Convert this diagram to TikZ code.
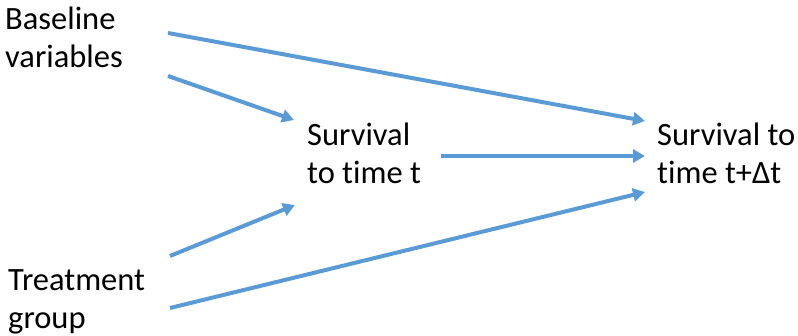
\documentclass[tikz,border=0pt]{standalone}
\usepackage{fontspec}
\setmainfont{Carlito}[Ligatures={NoCommon,NoRequired,NoContextual}]
\usetikzlibrary{arrows.meta}
\definecolor{linkblue}{RGB}{91,155,213}
\tikzset{
  label/.style={anchor=base west, inner sep=0pt, align=left,
    font=\fontsize{32.5}{38}\selectfont, text=black},
  link/.style={draw=linkblue, line width=4pt,
    -{Triangle[length=12pt,width=13pt]}}
}
\begin{document}
\begin{tikzpicture}[x=1pt,y=-1pt]
  \useasboundingbox (0,0) rectangle (798,336);
  % labels (anchored at the baseline of their last line)
  \node[label] (base)  at (5,68)    {Baseline\\variables};
  \node[label] (treat) at (8,329)   {Treatment\\group};
  \node[label] (surv)  at (307,184) {Survival\\to time t};
  \node[label] (survd) at (657,184) {Survival to\\time t+Δt};
  % arrow end points
  \coordinate (b1) at (168,33);
  \coordinate (b2) at (168,76);
  \coordinate (t1) at (170,256);
  \coordinate (t2) at (170,308);
  \coordinate (s0) at (441,156);
  \coordinate (sIn1) at (294,120);
  \coordinate (sIn2) at (295,205);
  \coordinate (dIn1) at (645,121);
  \coordinate (dIn2) at (645,156);
  \coordinate (dIn3) at (645,192);
  % connectors
  \draw[link] (b1) -- (dIn1);
  \draw[link] (b2) -- (sIn1);
  \draw[link] (t1) -- (sIn2);
  \draw[link] (t2) -- (dIn3);
  \draw[link] (s0) -- (dIn2);
\end{tikzpicture}
\end{document}
